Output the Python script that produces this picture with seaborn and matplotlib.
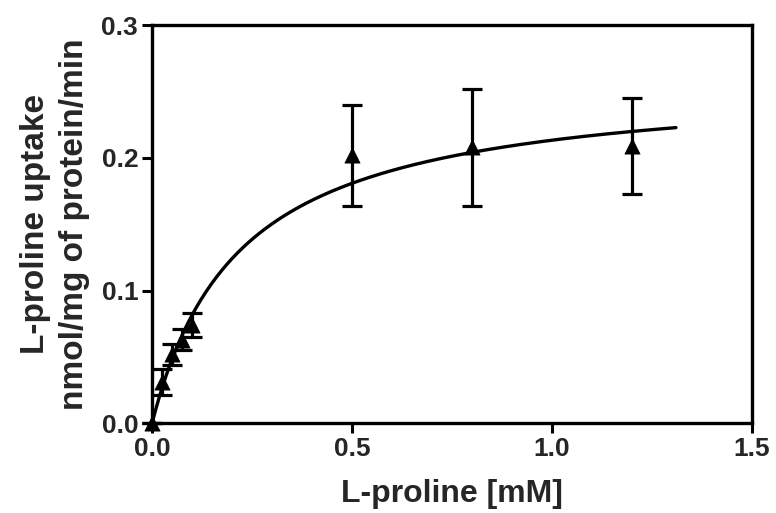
import numpy as np
import pandas as pd
import matplotlib
matplotlib.use("Agg")
import matplotlib.pyplot as plt
import seaborn as sns

# data
conc = [0.0, 0.025, 0.05, 0.075, 0.1, 0.5, 0.8, 1.2]
uptake = [0.0, 0.031, 0.052, 0.063, 0.074, 0.202, 0.208, 0.209]
sem = [0.0, 0.010, 0.008, 0.008, 0.009, 0.038, 0.044, 0.036]

# Michaelis-Menten fit as drawn in the reference
vmax = 0.260
km = 0.219
fit_xmax = 1.31

xticks = [0.0, 0.5, 1.0, 1.5]
yticks = [0.0, 0.1, 0.2, 0.3]

sns.set_style("ticks")
plt.rcParams["font.family"] = ["Liberation Sans", "DejaVu Sans"]
plt.rcParams["font.weight"] = "bold"

df = pd.DataFrame({"conc": conc, "uptake": uptake, "sem": sem})
xs = np.linspace(0, fit_xmax, 300)
fit = pd.DataFrame({"conc": xs, "uptake": vmax * xs / (km + xs)})

fig = plt.figure(figsize=(7.76, 5.13), dpi=100)
ax = fig.add_axes([0.196, 0.175, 0.773, 0.776])

sns.lineplot(data=fit, x="conc", y="uptake", color="black", lw=2.4, ax=ax)
ax.errorbar(df["conc"], df["uptake"], yerr=df["sem"], fmt="none",
            ecolor="black", elinewidth=2.3, capsize=7, capthick=2.3, clip_on=False)
sns.scatterplot(data=df, x="conc", y="uptake", marker="^", s=120, color="black",
                edgecolor="black", linewidth=0.5, ax=ax, clip_on=False, zorder=5)

ax.set_xlim(0, 1.5)
ax.set_ylim(0, 0.3)
ax.set_xticks(xticks)
ax.set_yticks(yticks)
ax.set_xticklabels([f"{t:.1f}" for t in xticks], fontsize=19, fontweight="bold")
ax.set_yticklabels([f"{t:.1f}" for t in yticks], fontsize=19, fontweight="bold")
ax.tick_params(direction="out", length=7, width=2.2, color="black", pad=3)

for side in ["left", "right", "top", "bottom"]:
    ax.spines[side].set_visible(True)
    ax.spines[side].set_linewidth(2.4)
    ax.spines[side].set_color("black")

ax.set_xlabel("L-proline [mM]", fontsize=23, fontweight="bold", labelpad=13)
ax.set_ylabel("L-proline uptake\nnmol/mg of protein/min", fontsize=24,
              fontweight="bold", labelpad=8, linespacing=1.35)

fig.savefig("out.png", dpi=100)
